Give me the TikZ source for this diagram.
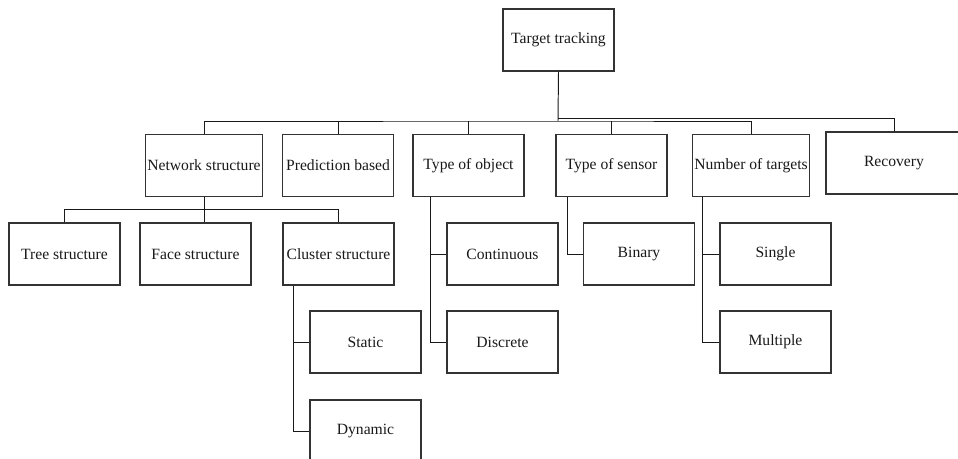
\documentclass[tikz,border=0pt]{standalone}
\usepackage{fontspec}
\setmainfont{Liberation Serif}
\usepackage{tikz}
\usetikzlibrary{positioning,calc}

\tikzset{
    box/.style={draw=black!80, line width=0.65pt, minimum width=2.22cm, minimum height=1.24cm,
        inner sep=1pt, font=\fontsize{8.9}{10}\selectfont, text=black!90},
    wide/.style={box, minimum width=2.32cm},
    link/.style={draw=black!90, line width=0.55pt}
}

\begin{document}
\begin{tikzpicture}[x=0.02cm, y=-0.02cm]
    \useasboundingbox (0,0) rectangle (958,459);

    % Level 1 and 2
    \node[box] (tgt) at (558.5,40) {Target tracking};
    \node[wide] (net) at (204,165.5) {Network structure};
    \node[box] (pred) at (338,165.5) {Prediction based};
    \node[box] (obj) at (468.5,165.5) {Type of object};
    \node[box] (sen) at (611.5,165.5) {Type of sensor};
    \node[wide] (num) at (751,165.5) {Number of targets};
    \node[box, minimum width=2.72cm] (rec) at (894,163) {Recovery};

    % Level 3
    \node[box] (tree) at (64.5,254) {Tree structure};
    \node[box] (face) at (195.5,254) {Face structure};
    \node[box] (clu) at (338.5,254) {Cluster structure};
    \node[box] (cont) at (502.5,254) {Continuous};
    \node[box] (bin) at (639,254) {Binary};
    \node[box] (sgl) at (775.5,254) {Single};

    % Level 4
    \node[box] (sta) at (365.5,342) {Static};
    \node[box] (disc) at (502.5,342) {Discrete};
    \node[box] (mul) at (775.5,342) {Multiple};
    \node[box] (dyn) at (365.5,431) {Dynamic};

    % Top buses
    \coordinate (bus) at (558,121);
    \coordinate (rbus) at (558,118);
    \draw[link] (tgt.south) -- (bus);
    \draw[link] (net.north) |- (bus) -| (num.north);
    \foreach \n in {pred,obj,sen}
        \draw[link] (\n.north) -- (\n.north |- bus);
    \draw[link] (rbus) -| (rec.north);

    % Network structure branch
    \draw[link] (net.south) -- ++(0,12) coordinate (nb);
    \draw[link] (tree.north) |- (nb) -| (clu.north);
    \draw[link] (nb) -- (nb |- face.north);

    % Side branches
    \draw[link] ([xshift=0.22cm]clu.south west) |- (sta.west);
    \draw[link] ([xshift=0.22cm]clu.south west) |- (dyn.west);
    \draw[link] ([xshift=0.36cm]obj.south west) |- (cont.west);
    \draw[link] ([xshift=0.36cm]obj.south west) |- (disc.west);
    \draw[link] ([xshift=0.24cm]sen.south west) |- (bin.west);
    \draw[link] ([xshift=0.22cm]num.south west) |- (sgl.west);
    \draw[link] ([xshift=0.22cm]num.south west) |- (mul.west);
\end{tikzpicture}
\end{document}
